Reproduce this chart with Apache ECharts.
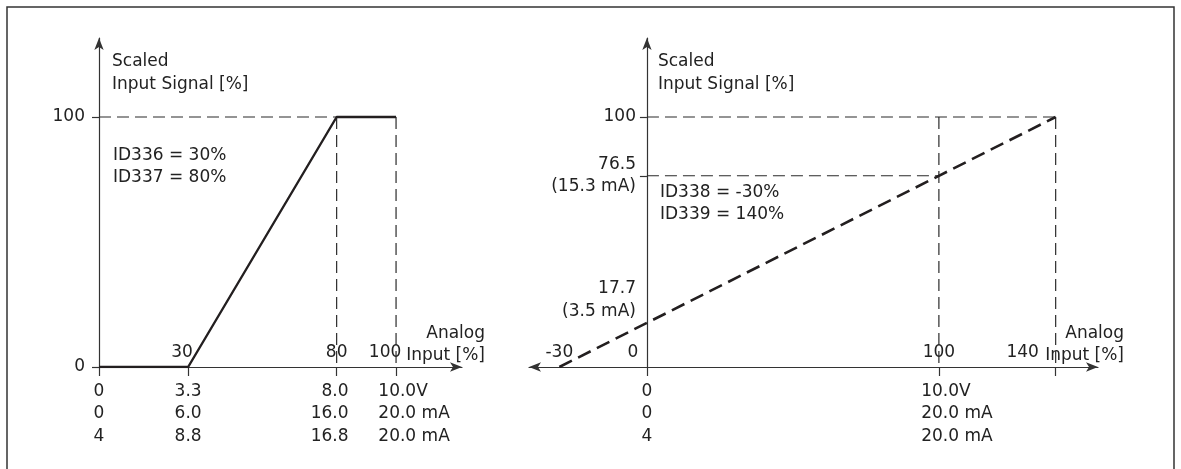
<!DOCTYPE html>
<html>
<head>
<meta charset="utf-8">
<script src="https://cdn.jsdelivr.net/npm/echarts@6/dist/echarts.min.js"></script>
<style>
  html, body { margin: 0; padding: 0; background: #fff; }
  #main { width: 1181px; height: 469px; }
</style>
</head>
<body>
<div id="main"></div>
<script>
// left chart (ID336 = 30%, ID337 = 80%)
var leftLineX = [0, 30, 80, 100];
var leftLineY = [0, 0, 100, 100];
var leftTicks = [0, 30, 80, 100];
var leftVolt = ['0', '3.3', '8.0', '10.0V'];
var leftMa = ['0', '6.0', '16.0', '20.0 mA'];
var leftMa4 = ['4', '8.8', '16.8', '20.0 mA'];
var leftTopTicks = [30, 80, 100];
var leftTopLabels = ['30', '80', '100'];
var leftYTicks = [0, 100];
var leftGuides = [[[0, 100], [80, 100]], [[80, 100], [80, 0]], [[100, 100], [100, 0]]];

// right chart (ID338 = -30%, ID339 = 140%)
var rightLineX = [-30, 140];
var rightLineY = [0, 100];
var rightTicks = [0, 100, 140];
var rightLabelTicks = [0, 100];
var rightVolt = ['0', '10.0V'];
var rightMa = ['0', '20.0 mA'];
var rightMa4 = ['4', '20.0 mA'];
var rightTopTicks = [-30, 0, 100, 140];
var rightTopLabels = ['-30', '0', '100', '140'];
var rightYTicks = [76.5, 100];
var rightYLabelTicks = [17.7, 76.5, 100];
var rightYLabels = [['17.7', '(3.5 mA)'], ['76.5', '(15.3 mA)'], ['100']];
var rightGuides = [[[0, 100], [140, 100]], [[0, 76.5], [100, 76.5]], [[100, 100], [100, 0]], [[140, 100], [140, 0]]];

var FONT = 'DejaVu Sans';
var TXT = '#222';
var LINE = '#333';
var FS = 17;

function rs(extra) {
  var o = { fontFamily: FONT, fontSize: FS, color: TXT, lineHeight: 22.5 };
  for (var k in extra) o[k] = extra[k];
  return o;
}
var rich = {
  c: rs({ align: 'center' }),
  r: rs({ align: 'right', padding: [0, 14, 0, 0] }),
  l: rs({ align: 'left', padding: [0, 0, 0, 36] }),
  a: rs({ align: 'right' }),
  e: rs({ align: 'right' }),
  p12: rs({ padding: [0, 12, 0, 0] }),
  p22: rs({ padding: [0, 22, 0, 0] }),
  p28: rs({ padding: [0, 28, 0, 0] }),
  p66: rs({ padding: [0, 66, 0, 0] })
};

function bottomFmt(ticks, r1, r2, r3, styles) {
  return function (v) {
    var i = ticks.indexOf(v);
    if (i < 0) return '';
    var s = styles[i];
    return '{' + s + '|' + r1[i] + '}\n{' + s + '|' + r2[i] + '}\n{' + s + '|' + r3[i] + '}';
  };
}
function topFmt(ticks, labels, styles) {
  return function (v) {
    var i = ticks.indexOf(v);
    if (i < 0) return '';
    return '{' + styles[i] + '|' + labels[i] + '}';
  };
}

function guideSeries(segs, xi, yi) {
  return segs.map(function (seg) {
    return {
      type: 'line', xAxisIndex: xi, yAxisIndex: yi, data: seg, symbol: 'none', silent: true,
      lineStyle: { color: '#2a2a2a', width: 1.2, type: [12, 6] }, z: 1
    };
  });
}

function mainX(grid, min, max, ticks, labelTicks, fmt, arrows, nameGap) {
  return {
    type: 'value', gridIndex: grid, min: min, max: max, position: 'bottom',
    splitLine: { show: false },
    axisLine: { show: true, onZero: false, symbol: arrows, symbolSize: [7, 12],
      lineStyle: { color: LINE, width: 1.2 } },
    axisTick: { show: true, customValues: ticks, length: 9, lineStyle: { color: LINE, width: 1.2 } },
    axisLabel: { customValues: labelTicks, formatter: fmt, margin: 13, rich: rich, hideOverlap: false,
      fontFamily: FONT, fontSize: FS, color: TXT },
    name: 'Analog\nInput [%]', nameLocation: 'end', nameGap: nameGap, nameMoveOverlap: false,
    nameTextStyle: { fontFamily: FONT, fontSize: FS, color: TXT, align: 'right',
      verticalAlign: 'bottom', lineHeight: 22 }
  };
}
// label-only x axis (no line, no ticks) sharing a grid with a main axis
function labelX(grid, min, max, ticks, fmt, inside, margin) {
  return {
    type: 'value', gridIndex: grid, min: min, max: max, position: 'bottom',
    splitLine: { show: false }, axisLine: { show: false, onZero: false }, axisTick: { show: false },
    axisLabel: { inside: inside, customValues: ticks, formatter: fmt, margin: margin, rich: rich, hideOverlap: false,
      fontFamily: FONT, fontSize: FS, color: TXT }
  };
}
function mainY(grid, max, offset, ticks, labelTicks, fmt, margin, padLeft) {
  return {
    type: 'value', gridIndex: grid, min: 0, max: max, position: 'left', offset: offset,
    splitLine: { show: false },
    axisLine: { show: true, onZero: false, symbol: ['none', 'arrow'], symbolSize: [7, 12],
      lineStyle: { color: LINE, width: 1.2 } },
    axisTick: { show: true, customValues: ticks, length: 7, lineStyle: { color: LINE, width: 1.2 } },
    axisLabel: { customValues: labelTicks, formatter: fmt, margin: margin, rich: rich, hideOverlap: false,
      fontFamily: FONT, fontSize: FS, color: TXT },
    name: 'Scaled\nInput Signal [%]', nameLocation: 'end', nameGap: -12.5, nameMoveOverlap: false,
    nameTextStyle: { fontFamily: FONT, fontSize: FS, color: TXT, align: 'left',
      verticalAlign: 'top', lineHeight: 23, padding: [0, 0, 0, padLeft] }
  };
}

var LX_MAX = 122.2;
var RX_MIN = -40.4, RX_MAX = 154.5;
var rightGridLeft = 529, rightGridRight = 1098;
// y axis of the right chart sits at x = 0
var rightYOffset = -(0 - RX_MIN) / (RX_MAX - RX_MIN) * (rightGridRight - rightGridLeft);

var chart = echarts.init(document.getElementById('main'));
var series = [];
series = series.concat(guideSeries(leftGuides, 0, 0));
series = series.concat(guideSeries(rightGuides, 3, 1));
series.push({
  type: 'line', xAxisIndex: 0, yAxisIndex: 0, symbol: 'none', z: 3,
  data: leftLineX.map(function (x, i) { return [x, leftLineY[i]]; }),
  lineStyle: { color: '#231f20', width: 2.4 }
});
series.push({
  type: 'line', xAxisIndex: 3, yAxisIndex: 1, symbol: 'none', z: 3,
  data: rightLineX.map(function (x, i) { return [x, rightLineY[i]]; }),
  lineStyle: { color: '#231f20', width: 2.6, type: [14, 7] }
});

var leftBottom = bottomFmt(leftTicks, leftVolt, leftMa, leftMa4, ['c', 'c', 'r', 'l']);

chart.setOption({
  animation: false,
  backgroundColor: '#fff',
  grid: [
    { left: 99, right: 1181 - 462, top: 38, bottom: 469 - 367, containLabel: false, outerBoundsMode: 'none' },
    { left: rightGridLeft, right: 1181 - rightGridRight, top: 38, bottom: 469 - 367, containLabel: false, outerBoundsMode: 'none' }
  ],
  xAxis: [
    mainX(0, 0, LX_MAX, leftTicks, leftTicks.slice(0, 3), leftBottom, ['none', 'arrow'], 23),
    labelX(0, 0, LX_MAX, leftTopTicks, topFmt(leftTopTicks, leftTopLabels, ['p12', 'c', 'p22']), true, 3),
    labelX(0, 0, LX_MAX, leftTicks.slice(3), leftBottom, false, 13),
    mainX(1, RX_MIN, RX_MAX, rightTicks, rightLabelTicks,
      bottomFmt(rightLabelTicks, rightVolt, rightMa, rightMa4, ['c', 'l']), ['arrow', 'arrow'], 26),
    labelX(1, RX_MIN, RX_MAX, rightTopTicks, topFmt(rightTopTicks, rightTopLabels, ['c', 'p28', 'c', 'p66']), true, 3)
  ],
  yAxis: [
    mainY(0, 131.6, 0, leftYTicks, leftYTicks, function (v) { return v === 0 ? '0' : '100'; }, 14, 13),
    mainY(1, 131.6, rightYOffset, rightYTicks, rightYLabelTicks, function (v) {
      var i = rightYLabelTicks.indexOf(v);
      if (i < 0) return '';
      var lines = rightYLabels[i].map(function (t) { return '{a|' + t + '}'; });
      if (i === 0) lines.push('{e| }', '{e| }');
      return lines.join('\n');
    }, 11, 11)
  ],
  graphic: [
    { type: 'rect', shape: { x: 7, y: 7, width: 1167, height: 520 },
      style: { fill: 'none', stroke: '#333', lineWidth: 1.5 }, silent: true },
    { type: 'text', x: 113, y: 145, style: { text: 'ID336 = 30%\nID337 = 80%',
      font: FS + 'px "' + FONT + '"', fill: TXT, lineHeight: 22, verticalAlign: 'top' } },
    { type: 'text', x: 660, y: 182, style: { text: 'ID338 = -30%\nID339 = 140%',
      font: FS + 'px "' + FONT + '"', fill: TXT, lineHeight: 22, verticalAlign: 'top' } }
  ],
  series: series
});
</script>
</body>
</html>
